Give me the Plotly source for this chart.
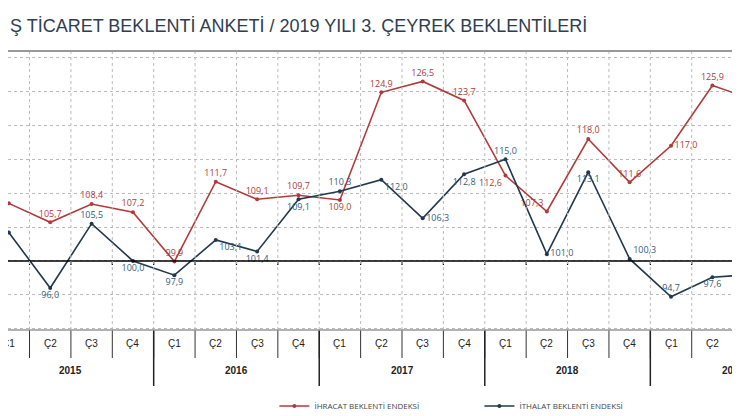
import plotly.graph_objects as go

quarters = ["Ç1","Ç2","Ç3","Ç4"]*5
quarters = quarters[:19]
years = ["2015","2016","2017","2018","2019"]
ihracat = [108.5,105.7,108.4,107.2,99.9,111.7,109.1,109.7,109.0,124.9,126.5,123.7,112.6,107.3,118.0,111.6,117.0,125.9,123.8]
ithalat = [104.2,96.0,105.5,100.0,97.9,103.1,101.4,109.1,110.3,112.0,106.3,112.8,115.0,101.0,113.1,100.3,94.7,97.6,98.0]

red = "#b23a3a"
navy = "#22384c"
fmt = lambda v: f"{v:.1f}".replace(".", ",")
x = list(range(len(quarters)))

pos_r = ["top left","top center","top center","top center","top center","top center","top center","top center",
         "bottom center","top center","top center","top center","bottom left","top left","top center","top center",
         "middle right","top center","top center"]
pos_i = ["top left","bottom center","top center","bottom center","bottom center","bottom right","bottom center","bottom center",
         "top center","bottom right","middle right","bottom center","top center","middle right","bottom center","top right",
         "top center","bottom center","top center"]

fig = go.Figure()
fig.add_trace(go.Scatter(x=x, y=ihracat, mode="lines+markers+text", name="İHRACAT BEKLENTİ ENDEKSİ",
    line=dict(color=red, width=1.6), marker=dict(size=4, color=red),
    text=[fmt(v) for v in ihracat], textposition=pos_r, textfont=dict(size=9, color=red), cliponaxis=False))
fig.add_trace(go.Scatter(x=x, y=ithalat, mode="lines+markers+text", name="İTHALAT BEKLENTİ ENDEKSİ",
    line=dict(color=navy, width=1.6), marker=dict(size=4, color=navy),
    text=[fmt(v) for v in ithalat], textposition=pos_i, textfont=dict(size=9, color="#34607a"), cliponaxis=False))

H, T, B = 416, 43, 94
ph = H - T - B
def py(ypx):
    return (H - B - ypx) / ph

shapes = []
shapes.append(dict(type="line", xref="paper", yref="y", x0=0, x1=1, y0=100, y1=100, line=dict(color="black", width=1.5)))
for i in range(len(quarters)):
    xm = i + 0.5
    shapes.append(dict(type="line", xref="x", yref="y", x0=xm, x1=xm, y0=99.4, y1=100, line=dict(color="black", width=1.2)))
    shapes.append(dict(type="line", xref="x", yref="paper", x0=xm, x1=xm, y0=py(350), y1=py(322), line=dict(color="#333", width=1)))
    shapes.append(dict(type="line", xref="x", yref="paper", x0=xm, x1=xm, y0=py(322), y1=1, line=dict(color="#bbbbbb", width=1, dash="dot")))
for b in [3.5, 7.5, 11.5, 15.5]:
    shapes.append(dict(type="line", xref="x", yref="paper", x0=b, x1=b, y0=py(378), y1=py(322), line=dict(color="#222", width=1.5)))
shapes.append(dict(type="line", xref="paper", yref="paper", x0=0, x1=1, y0=py(322), y1=py(322), line=dict(color="#999", width=1.5)))
shapes.append(dict(type="line", xref="paper", yref="paper", x0=0, x1=1, y0=1, y1=1, line=dict(color="#999", width=2)))
shapes.append(dict(type="line", xref="paper", yref="paper", x0=0, x1=1, y0=py(413), y1=py(413), line=dict(color="#888", width=3)))

ann = []
for i, q in enumerate(quarters):
    ann.append(dict(x=i, y=py(335), xref="x", yref="paper", yanchor="middle", text=q, showarrow=False, font=dict(size=10, color="#222", family="Liberation Sans Narrow, Arial Narrow, sans-serif")))
for k, yr in enumerate(years):
    ann.append(dict(x=4 * k + 1.5, y=py(362), xref="x", yref="paper", yanchor="middle", text="<b>" + yr + "</b>", showarrow=False, font=dict(size=10, color="#222", family="Liberation Sans Narrow, sans-serif")))
ann.append(dict(x=0, y=py(18), xref="paper", yref="paper", xanchor="left", yanchor="middle", showarrow=False,
    text="Ş TİCARET BEKLENTİ ANKETİ / 2019 YILI 3. ÇEYREK BEKLENTİLERİ", font=dict(size=18, color="#2d3e50", family="Liberation Sans Narrow, sans-serif")))

fig.update_layout(width=740, height=416, margin=dict(l=0, r=0, t=T, b=B),
    paper_bgcolor="white", plot_bgcolor="white",
    xaxis=dict(range=[-0.02, 17.86], showgrid=False, showticklabels=False, zeroline=False),
    yaxis=dict(range=[89.8, 131], dtick=5, showgrid=True, gridcolor="#bbbbbb", griddash="dot", showticklabels=False, zeroline=False),
    shapes=shapes, annotations=ann, showlegend=True,
    legend=dict(orientation="h", x=0.36, y=py(398), yanchor="middle", font=dict(size=8, color="#444"), itemwidth=30, entrywidth=160))
fig.write_html("out.html")
